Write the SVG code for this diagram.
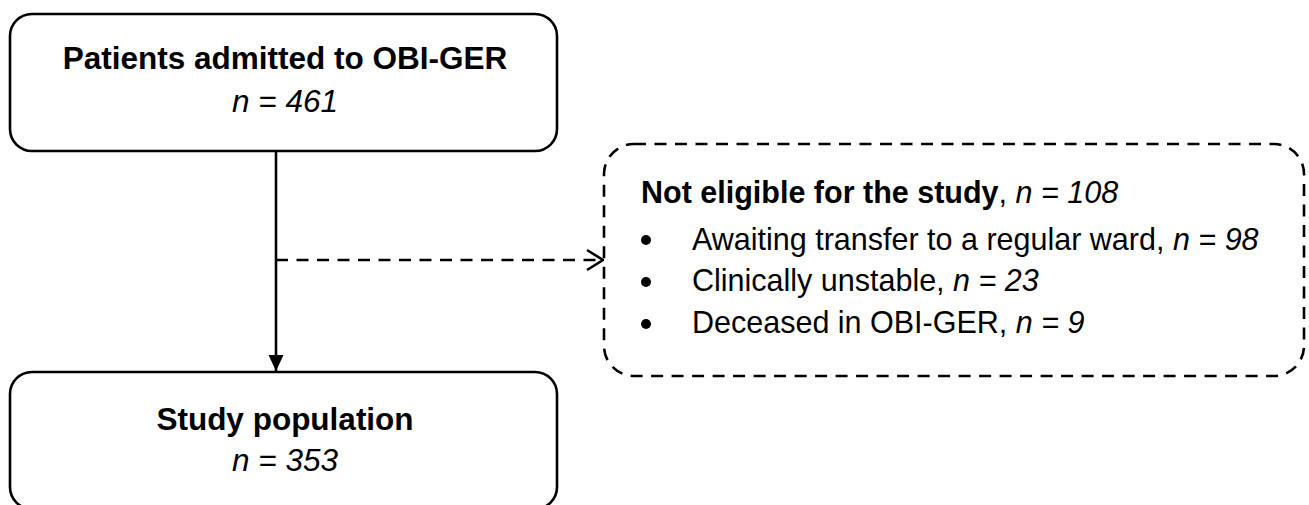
<svg xmlns="http://www.w3.org/2000/svg" width="1309" height="505" viewBox="0 0 1309 505">
  <defs>
    <style>
      .box { fill: #ffffff; stroke: #000000; stroke-width: 2.6; }
      .box-dashed { fill: #ffffff; stroke: #000000; stroke-width: 2.6; stroke-dasharray: 12 8.5; }
      .line { fill: none; stroke: #000000; stroke-width: 2.6; }
      .line-dashed { fill: none; stroke: #000000; stroke-width: 2.6; stroke-dasharray: 12 8.5; }
      text { font-family: "Liberation Sans", Arial, sans-serif; fill: #000000; }
      .title { font-size: 31.5px; font-weight: bold; text-anchor: middle; }
      .count { font-size: 31.5px; font-style: italic; text-anchor: middle; }
      .list { font-size: 30.5px; }
      .b { font-weight: bold; }
      .i { font-style: italic; }
    </style>
    <marker id="arrow-solid" markerWidth="16" markerHeight="18" refX="16" refY="9" orient="auto" markerUnits="userSpaceOnUse">
      <path d="M0,1.5 L16,9 L0,16.5 Z" fill="#000000"/>
    </marker>
    <marker id="arrow-open" markerWidth="20" markerHeight="24" refX="18" refY="12" orient="auto" markerUnits="userSpaceOnUse">
      <path d="M2,2 L18,12 L2,22" fill="none" stroke="#000000" stroke-width="2.6"/>
    </marker>
  </defs>

  <!-- connectors -->
  <g id="connectors">
    <line class="line" x1="276" y1="151" x2="276" y2="371" marker-end="url(#arrow-solid)"/>
    <line class="line-dashed" x1="276" y1="260" x2="603" y2="260" marker-end="url(#arrow-open)"/>
  </g>

  <!-- admitted patients -->
  <g id="node-admitted">
    <rect class="box" x="10" y="14" width="547" height="137" rx="22" ry="22"/>
    <text class="title" x="285" y="69">Patients admitted to OBI-GER</text>
    <text class="count" x="285" y="112">n = 461</text>
  </g>

  <!-- exclusions -->
  <g id="node-excluded">
    <rect class="box-dashed" x="604" y="144" width="700" height="232" rx="30" ry="30"/>
    <text class="list" x="641" y="203"><tspan class="b">Not eligible for the study</tspan>, <tspan class="i">n = 108</tspan></text>
    <circle cx="646" cy="240" r="5"/>
    <text class="list" x="692" y="250">Awaiting transfer to a regular ward, <tspan class="i">n = 98</tspan></text>
    <circle cx="646" cy="282" r="5"/>
    <text class="list" x="692" y="291">Clinically unstable, <tspan class="i">n = 23</tspan></text>
    <circle cx="646" cy="324" r="5"/>
    <text class="list" x="692" y="333">Deceased in OBI-GER, <tspan class="i">n = 9</tspan></text>
  </g>

  <!-- study population -->
  <g id="node-study">
    <rect class="box" x="10" y="372" width="547" height="137" rx="22" ry="22"/>
    <text class="title" x="285" y="430">Study population</text>
    <text class="count" x="285" y="471">n = 353</text>
  </g>
</svg>
